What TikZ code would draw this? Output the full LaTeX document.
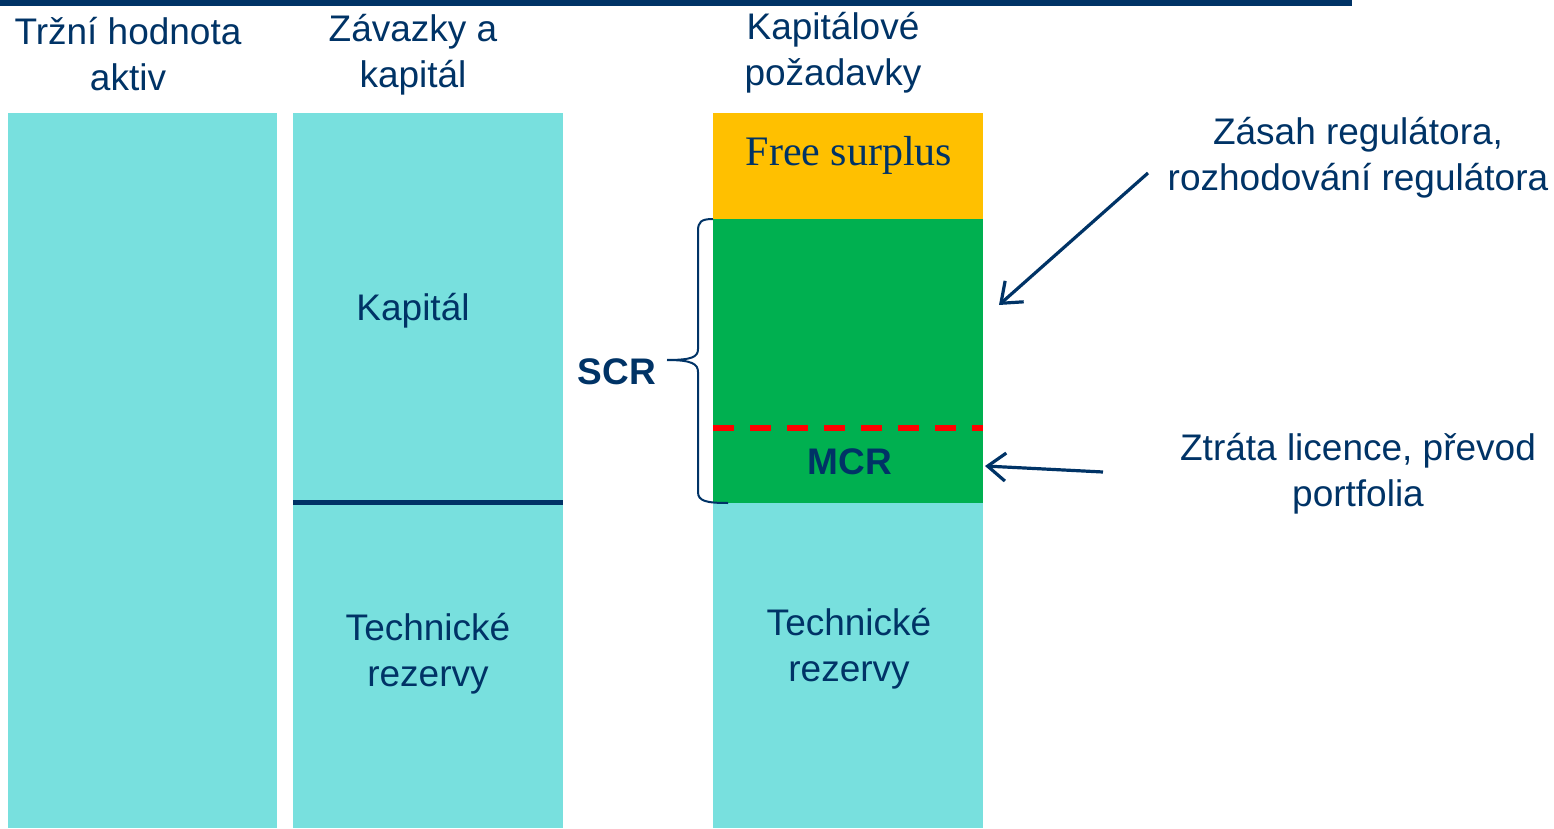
\documentclass[tikz,border=0pt]{standalone}
\usepackage{fontspec}
\setmainfont{Liberation Sans}
\newfontfamily\serifface{Liberation Serif}
\usetikzlibrary{arrows.meta}
\definecolor{navy}{RGB}{0,51,102}
\definecolor{aqua}{RGB}{120,224,222}
\definecolor{grn}{RGB}{0,176,80}
\definecolor{amber}{RGB}{255,192,0}
\definecolor{dashred}{RGB}{255,0,0}
\tikzset{
  block/.style={fill=#1, draw=none, inner sep=0pt},
  label/.style={text=navy, align=center, inner sep=0pt,
    font=\fontsize{18.5}{23}\selectfont},
  boldlabel/.style={text=navy, inner sep=0pt,
    font=\fontsize{18.5}{23}\selectfont\bfseries},
  pointer/.style={draw=navy, line width=1.6pt,
    -{Straight Barb[length=9pt,width=14pt,line width=1.6pt]}},
}
\begin{document}
\begin{tikzpicture}[x=0.5pt,y=-0.5pt]
\useasboundingbox (0,0) rectangle (1554,829);
% top rule
\fill[navy] (0,0) rectangle (1352,6);

% column 1: market value of assets
\fill[aqua] (8,113) rectangle (277,828);
\node[label] (h1) at (128,54) {Tržní hodnota\\aktiv};

% column 2: liabilities and capital
\fill[aqua] (293,113) rectangle (563,828);
\coordinate (splitL) at (293,502.5);
\coordinate (splitR) at (563,502.5);
\draw[navy, line width=2.5pt] (splitL) -- (splitR);
\node[label] (h2) at (413,55) {Závazky a\\kapitál};
\node[label] (cap) at (413,311) {Kapitál};
\node[label] (tr2) at (428,654) {Technické\\rezervy};

% column 3: capital requirements
\node[block=amber, minimum width=135pt, minimum height=53pt, anchor=north west]
  (fs) at (713,113) {};
\node[block=grn, minimum width=135pt, minimum height=142pt, anchor=north west]
  (scr) at (713,219) {};
\node[block=aqua, minimum width=135pt, minimum height=162.5pt, anchor=north west]
  (tr) at (713,503) {};
\node[label] (h3) at (833,53) {Kapitálové\\požadavky};
\node[text=navy, inner sep=0pt, font=\serifface\fontsize{21}{25}\selectfont]
  (fstext) at (849,155) {Free surplus};
\node[label] (tr3) at (849,649) {Technické\\rezervy};

% MCR threshold
\coordinate (mcrL) at (713,428);
\coordinate (mcrR) at (983,428);
\draw[dashred, line width=2.6pt, dash pattern=on 10.5pt off 8pt] (mcrL) -- (mcrR);
\node[boldlabel] (mcr) at (850,462) {MCR};

% SCR brace
\node[boldlabel] (scrtext) at (617,372) {SCR};
\draw[navy, line width=1pt]
  (713,219) .. controls (701,219) and (698,222) .. (698,231)
  -- (698,349) .. controls (698,357) and (692,360) .. (667,360)
  (667,360) .. controls (692,360) and (698,364) .. (698,372)
  -- (698,492) .. controls (698,501) and (706,503) .. (728,503);

% annotations
\node[label] (reg) at (1358,158) {Zásah regulátora,\\rozhodování regulátora};
\node[label] (lic) at (1358,474) {Ztráta licence, převod\\portfolia};
\coordinate (a1s) at (1148,173);
\coordinate (a1e) at (999,305);
\draw[pointer] (a1s) -- (a1e);
\coordinate (a2s) at (1103,472);
\coordinate (a2e) at (985,466);
\draw[pointer] (a2s) -- (a2e);
\end{tikzpicture}
\end{document}
